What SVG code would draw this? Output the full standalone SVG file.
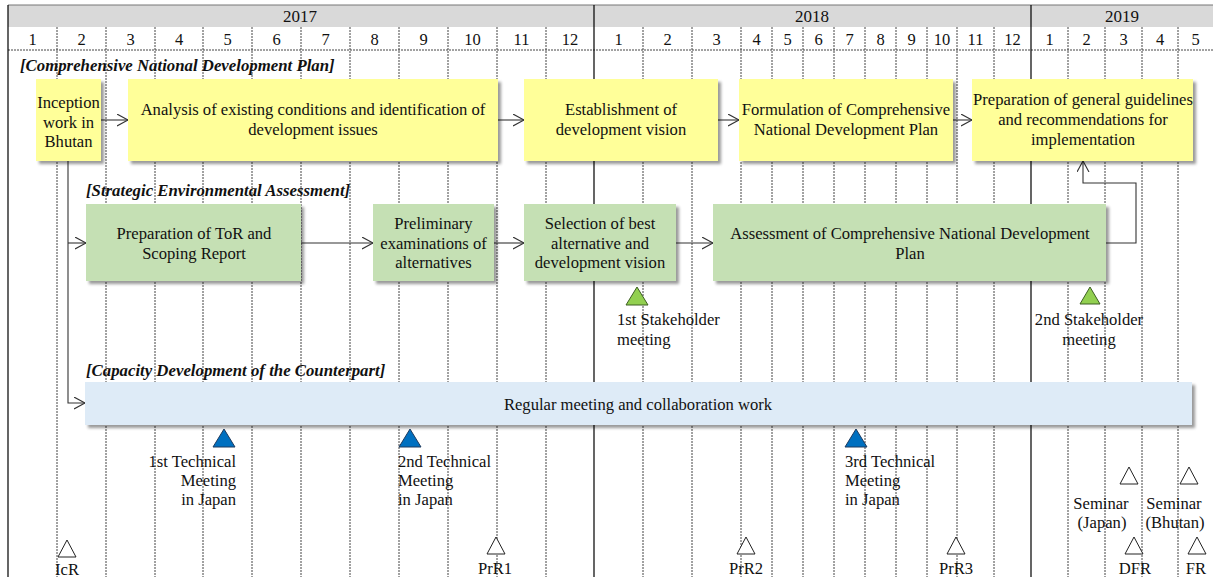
<svg xmlns="http://www.w3.org/2000/svg" width="1213" height="577" viewBox="0 0 1213 577">
  <style>
    text { font-family: "Liberation Serif", "Times New Roman", serif; fill: #111; }
    .lbl { font-size: 16.6px; }
    .mon { font-size: 16.5px; text-anchor: middle; }
    .yr { font-size: 17px; text-anchor: middle; }
    .head { font-size: 16.8px; font-weight: bold; font-style: italic; }
    .c { text-anchor: middle; }
    .r { text-anchor: end; }
    .grid { stroke: #444; stroke-width: 1; stroke-dasharray: 2 1; fill: none; }
    .solid { stroke: #000; stroke-width: 1.2; fill: none; }
    .yellow { fill: #ffff99; }
    .green { fill: #c5e0b4; }
    .blue { fill: #deebf7; }
    .conn { stroke: #333; stroke-width: 1.1; fill: none; }
    .tri-w { fill: #fff; stroke: #222; stroke-width: 1; }
    .tri-g { fill: #92d050; stroke: #3d5f22; stroke-width: 1; }
    .tri-b { fill: #0070c0; stroke: #1f3b5e; stroke-width: 1; }
  </style>
  <defs>
    <filter id="shadow" x="-5%" y="-10%" width="115%" height="130%">
      <feDropShadow dx="3" dy="3" stdDeviation="1.6" flood-color="#000" flood-opacity="0.4"/>
    </filter>
    <marker id="open" markerUnits="userSpaceOnUse" markerWidth="14" markerHeight="14" refX="11" refY="6" orient="auto">
      <path d="M0,0 L11,6 L0,12" fill="none" stroke="#333" stroke-width="1.1"/>
    </marker>
  </defs>

  <!-- timeline header -->
  <g id="header">
    <rect x="8" y="5" width="1205" height="22" fill="#d9d9d9"/>
    <line x1="8" y1="5" x2="1213" y2="5" stroke="#777" stroke-width="1"/>
    <text class="yr" x="300" y="22">2017</text>
    <text class="yr" x="812" y="22">2018</text>
    <text class="yr" x="1122" y="22">2019</text>
    <line class="grid" x1="8" y1="50" x2="1213" y2="50"/>
  </g>

  <!-- month grid -->
  <g id="grid">
    <path class="grid" d="M57,27V577 M106,27V577 M155,27V577 M203,27V577 M252,27V577 M301,27V577 M350,27V577 M399,27V577 M448,27V577 M497,27V577 M546,27V577
      M643,27V577 M692,27V577 M741,27V577 M772,27V577 M803,27V577 M834,27V577 M865,27V577 M896,27V577 M927,27V577 M957,27V577 M994,27V577
      M1068,27V577 M1105,27V577 M1142,27V577 M1178,27V577"/>
    <path class="solid" d="M8,5V577 M594,5V577 M1031,5V577"/>
  </g>

  <g id="months">
    <text class="mon" x="32.5" y="45">1</text>
    <text class="mon" x="81.5" y="45">2</text>
    <text class="mon" x="130.5" y="45">3</text>
    <text class="mon" x="179" y="45">4</text>
    <text class="mon" x="227.5" y="45">5</text>
    <text class="mon" x="276.5" y="45">6</text>
    <text class="mon" x="325.5" y="45">7</text>
    <text class="mon" x="374.5" y="45">8</text>
    <text class="mon" x="423.5" y="45">9</text>
    <text class="mon" x="472.5" y="45">10</text>
    <text class="mon" x="521.5" y="45">11</text>
    <text class="mon" x="570" y="45">12</text>
    <text class="mon" x="618.5" y="45">1</text>
    <text class="mon" x="667.5" y="45">2</text>
    <text class="mon" x="716.5" y="45">3</text>
    <text class="mon" x="756.5" y="45">4</text>
    <text class="mon" x="787.5" y="45">5</text>
    <text class="mon" x="818.5" y="45">6</text>
    <text class="mon" x="849.5" y="45">7</text>
    <text class="mon" x="880.5" y="45">8</text>
    <text class="mon" x="911.5" y="45">9</text>
    <text class="mon" x="942" y="45">10</text>
    <text class="mon" x="975.5" y="45">11</text>
    <text class="mon" x="1012.5" y="45">12</text>
    <text class="mon" x="1049.5" y="45">1</text>
    <text class="mon" x="1086.5" y="45">2</text>
    <text class="mon" x="1123.5" y="45">3</text>
    <text class="mon" x="1160" y="45">4</text>
    <text class="mon" x="1195.5" y="45">5</text>
  </g>

  <!-- section headings -->
  <g id="headings">
    <text class="head" x="20" y="71">[Comprehensive National Development Plan]</text>
    <text class="head" x="86" y="196">[Strategic Environmental Assessment]</text>
    <text class="head" x="86" y="376">[Capacity Development of the Counterpart]</text>
  </g>

  <!-- connectors -->
  <g id="connectors">
    <path class="conn" d="M101,120H128" marker-end="url(#open)"/>
    <path class="conn" d="M498,120H524" marker-end="url(#open)"/>
    <path class="conn" d="M718,120H739" marker-end="url(#open)"/>
    <path class="conn" d="M953,120H972" marker-end="url(#open)"/>
    <path class="conn" d="M68,161V403H85" marker-end="url(#open)"/>
    <path class="conn" d="M68,243H86" marker-end="url(#open)"/>
    <path class="conn" d="M301,243H373" marker-end="url(#open)"/>
    <path class="conn" d="M494,243H524" marker-end="url(#open)"/>
    <path class="conn" d="M676,243H713" marker-end="url(#open)"/>
    <path class="conn" d="M1106,243H1136V183H1083V161" marker-end="url(#open)"/>
  </g>

  <!-- Comprehensive National Development Plan -->
  <g id="inception">
    <rect class="yellow" x="36" y="79" width="65" height="82" filter="url(#shadow)"/>
    <text class="lbl c" x="68.5" y="108">Inception<tspan x="68.5" dy="19.5">work in</tspan><tspan x="68.5" dy="19.5">Bhutan</tspan></text>
  </g>
  <g id="analysis">
    <rect class="yellow" x="128" y="79" width="370" height="82" filter="url(#shadow)"/>
    <text class="lbl c" x="313" y="115">Analysis of existing conditions and identification of<tspan x="313" dy="20">development issues</tspan></text>
  </g>
  <g id="vision">
    <rect class="yellow" x="524" y="79" width="194" height="82" filter="url(#shadow)"/>
    <text class="lbl c" x="621" y="115">Establishment of<tspan x="621" dy="20">development vision</tspan></text>
  </g>
  <g id="formulation">
    <rect class="yellow" x="739" y="79" width="214" height="82" filter="url(#shadow)"/>
    <text class="lbl c" x="846" y="115">Formulation of Comprehensive<tspan x="846" dy="20">National Development Plan</tspan></text>
  </g>
  <g id="guidelines">
    <rect class="yellow" x="972" y="79" width="221" height="82" filter="url(#shadow)"/>
    <text class="lbl c" x="1083" y="105">Preparation of general guidelines<tspan x="1083" dy="20">and recommendations for</tspan><tspan x="1083" dy="20">implementation</tspan></text>
  </g>

  <!-- Strategic Environmental Assessment -->
  <g id="scoping">
    <rect class="green" x="86" y="204" width="215" height="77" filter="url(#shadow)"/>
    <text class="lbl c" x="194" y="239">Preparation of ToR and<tspan x="194" dy="20">Scoping Report</tspan></text>
  </g>
  <g id="preliminary">
    <rect class="green" x="373" y="204" width="121" height="77" filter="url(#shadow)"/>
    <text class="lbl c" x="433.5" y="229">Preliminary<tspan x="433.5" dy="19.5">examinations of</tspan><tspan x="433.5" dy="19.5">alternatives</tspan></text>
  </g>
  <g id="selection">
    <rect class="green" x="524" y="204" width="152" height="77" filter="url(#shadow)"/>
    <text class="lbl c" x="600" y="229">Selection of best<tspan x="600" dy="19.5">alternative and</tspan><tspan x="600" dy="19.5">development vision</tspan></text>
  </g>
  <g id="assessment">
    <rect class="green" x="713" y="204" width="393" height="77" filter="url(#shadow)"/>
    <text class="lbl c" x="910" y="239">Assessment of Comprehensive National Development<tspan x="910" dy="20">Plan</tspan></text>
  </g>

  <g id="stakeholder1">
    <polygon class="tri-g" points="637,287 648,305 626,305"/>
    <text class="lbl" x="617" y="325">1st Stakeholder<tspan x="617" dy="19.5">meeting</tspan></text>
  </g>
  <g id="stakeholder2">
    <polygon class="tri-g" points="1090,287 1100,304 1080,304"/>
    <text class="lbl c" x="1089" y="325">2nd Stakeholder<tspan x="1089" dy="19.5">meeting</tspan></text>
  </g>

  <!-- Capacity Development of the Counterpart -->
  <g id="regular">
    <rect class="blue" x="85" y="382" width="1107" height="43" filter="url(#shadow)"/>
    <text class="lbl c" x="638" y="410">Regular meeting and collaboration work</text>
  </g>

  <g id="tech1">
    <polygon class="tri-b" points="224,429 235,447 213,447"/>
    <text class="lbl r" x="236" y="467">1st Technical<tspan x="236" dy="19">Meeting</tspan><tspan x="236" dy="19">in Japan</tspan></text>
  </g>
  <g id="tech2">
    <polygon class="tri-b" points="410,429 421,447 399,447"/>
    <text class="lbl" x="398" y="467">2nd Technical<tspan x="398" dy="19">Meeting</tspan><tspan x="398" dy="19">in Japan</tspan></text>
  </g>
  <g id="tech3">
    <polygon class="tri-b" points="856,429 867,447 845,447"/>
    <text class="lbl" x="845" y="467">3rd Technical<tspan x="845" dy="19">Meeting</tspan><tspan x="845" dy="19">in Japan</tspan></text>
  </g>

  <!-- reports and seminars -->
  <g id="icr">
    <polygon class="tri-w" points="67,540 76,557 58,557"/>
    <text class="lbl c" x="67" y="575">IcR</text>
  </g>
  <g id="prr1">
    <polygon class="tri-w" points="496,537 505,554 487,554"/>
    <text class="lbl c" x="495" y="574">PrR1</text>
  </g>
  <g id="prr2">
    <polygon class="tri-w" points="746,537 755,554 737,554"/>
    <text class="lbl c" x="746" y="574">PrR2</text>
  </g>
  <g id="prr3">
    <polygon class="tri-w" points="956,537 965,554 947,554"/>
    <text class="lbl c" x="956" y="574">PrR3</text>
  </g>
  <g id="seminar-japan">
    <polygon class="tri-w" points="1129,467 1138,484 1120,484"/>
    <text class="lbl c" x="1101" y="509">Seminar<tspan x="1102" dy="19">(Japan)</tspan></text>
  </g>
  <g id="seminar-bhutan">
    <polygon class="tri-w" points="1189,467 1198,484 1180,484"/>
    <text class="lbl c" x="1174" y="509">Seminar<tspan x="1175" dy="19">(Bhutan)</tspan></text>
  </g>
  <g id="dfr">
    <polygon class="tri-w" points="1134,537 1143,554 1125,554"/>
    <text class="lbl c" x="1135" y="574">DFR</text>
  </g>
  <g id="fr">
    <polygon class="tri-w" points="1197,537 1206,554 1188,554"/>
    <text class="lbl c" x="1196" y="574">FR</text>
  </g>
</svg>
